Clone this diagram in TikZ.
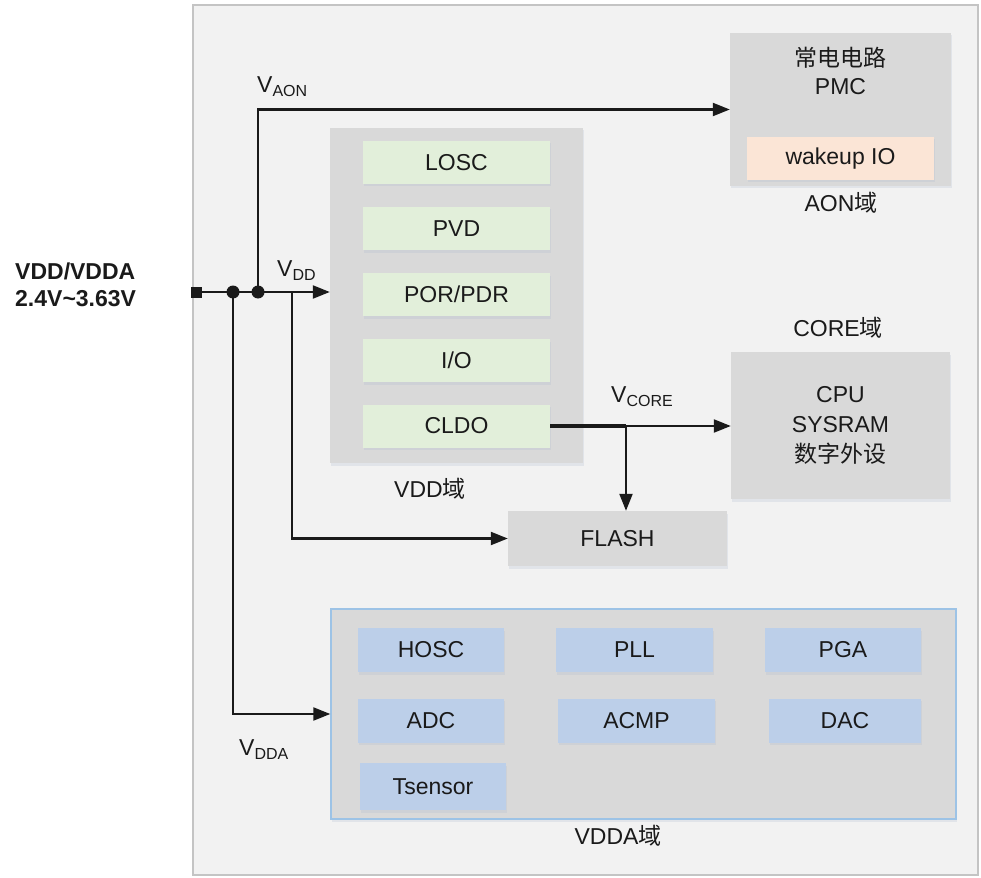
\documentclass[tikz,border=0pt]{standalone}
\usepackage{fontspec}
\setmainfont{Liberation Sans}
\newfontfamily\cjk{Noto Sans CJK SC}
\usetikzlibrary{arrows.meta,shadows}
\definecolor{ink}{HTML}{1A1A1A}
\definecolor{panel}{HTML}{F2F2F2}
\definecolor{panelrim}{HTML}{C4C4C4}
\definecolor{domain}{HTML}{D9D9D9}
\definecolor{leaf}{HTML}{E2EFDA}
\definecolor{peach}{HTML}{FBE5D6}
\definecolor{sky}{HTML}{BCCFE9}
\definecolor{skyrim}{HTML}{9DC3E6}
\definecolor{haze}{HTML}{A9B6CC}
\begin{document}
\begin{tikzpicture}[x=1pt,y=-1pt,
  txt/.style={font=\fontsize{23}{28}\selectfont, text=ink, inner sep=0pt},
  blk/.style={rectangle, inner sep=0pt, txt,
    drop shadow={shadow xshift=1pt, shadow yshift=-2.5pt, opacity=0.22, fill=haze}},
  greybox/.style={blk, fill=domain},
  greenbox/.style={blk, fill=leaf, minimum width=187pt, minimum height=43pt},
  bluebox/.style={blk, fill=sky, minimum height=44pt},
  wire/.style={line width=2.2pt, draw=ink},
  feed/.style={wire, -{Triangle[length=17pt,width=13pt]}},
  junction/.style={circle, fill=ink, minimum size=13pt, inner sep=0pt},
]
\useasboundingbox (0,0) rectangle (981,877);

% chip outline
\node[draw=panelrim, fill=panel, line width=1.2pt, minimum width=785pt, minimum height=870pt,
      inner sep=0pt] (chip) at (585.5,440) {};

% supply input
\node[txt, font=\fontsize{23}{27}\selectfont\bfseries, align=left, anchor=west]
  (supply) at (15,285) {VDD/VDDA\\2.4V\textasciitilde3.63V};

% always-on domain
\node[greybox, minimum width=221pt, minimum height=153pt] (aon) at (840.5,109.5) {};
\node[txt, align=center, font=\fontsize{23}{28}\selectfont] (aontxt) at (840.5,71) {{\cjk 常电电路}\\PMC};
\node[blk, fill=peach, minimum width=187pt, minimum height=43pt] (wake) at (840.5,158.5) {wakeup IO};
\node[txt] (aonlbl) at (841,203) {AON{\cjk 域}};

% VDD domain
\node[greybox, minimum width=253pt, minimum height=335pt] (vdd) at (456.5,295.5) {};
\node[greenbox] (losc) at (456.5,162.5) {LOSC};
\node[greenbox] (pvd)  at (456.5,228.5) {PVD};
\node[greenbox] (por)  at (456.5,294.5) {POR/PDR};
\node[greenbox] (io)   at (456.5,360.5) {I/O};
\node[greenbox] (cldo) at (456.5,426)   {CLDO};
\node[txt] (vddlbl) at (430,489) {VDD{\cjk 域}};

% core domain
\node[txt] (corelbl) at (838,328) {CORE{\cjk 域}};
\node[greybox, minimum width=219pt, minimum height=147pt, align=center,
      font=\fontsize{23}{30}\selectfont] (core) at (840.5,425.5) {CPU\\SYSRAM\\{\cjk 数字外设}};

% flash
\node[greybox, minimum width=219pt, minimum height=55pt] (flash) at (617.5,538.5) {FLASH};

% VDDA domain
\node[greybox, draw=skyrim, line width=1.4pt, minimum width=625pt, minimum height=210pt] (vdda) at (643.5,714) {};
\node[bluebox, minimum width=146pt] (hosc) at (431,650)   {HOSC};
\node[bluebox, minimum width=157pt] (pll)  at (634.5,650) {PLL};
\node[bluebox, minimum width=156pt] (pga)  at (843,650)   {PGA};
\node[bluebox, minimum width=146pt] (adc)  at (431,720.5) {ADC};
\node[bluebox, minimum width=157pt] (acmp) at (636.5,720.5) {ACMP};
\node[bluebox, minimum width=152pt] (dac)  at (845,720.5) {DAC};
\node[bluebox, minimum width=146pt, minimum height=47pt] (tsen) at (433,786.5) {Tsensor};
\node[txt] (vddalbl) at (618,836) {VDDA{\cjk 域}};

% supply distribution
\node[rectangle, fill=ink, minimum size=11pt, inner sep=0pt] (term) at (196,292) {};
\node[junction] (j1) at (233,292) {};
\node[junction] (j2) at (258,292) {};
\coordinate (tap) at (292,292);
\coordinate (split) at (626,426);

\draw[feed] (term.center) -- (term.center -| vdd.west);
\draw[feed] (j2.center) |- (aon.west);
\draw[feed] (j1.center) |- (vdda.west);
\draw[feed] (tap) |- (flash.west);
\draw[wire, line width=3.2pt] (cldo.east) -- (split);
\draw[feed] (split) -- (split -| core.west);
\draw[feed] (split) -- (split |- flash.north);

% rail names
\node[txt, anchor=base west] (vaon)  at (257,93)  {V\raisebox{-4pt}{\fontsize{16}{18}\selectfont AON}};
\node[txt, anchor=base west] (vdd0)  at (277,276) {V\raisebox{-4pt}{\fontsize{16}{18}\selectfont DD}};
\node[txt, anchor=base west] (vcore) at (611,402) {V\raisebox{-4pt}{\fontsize{16}{18}\selectfont CORE}};
\node[txt, anchor=base west] (vdda0) at (239,755) {V\raisebox{-4pt}{\fontsize{16}{18}\selectfont DDA}};
\end{tikzpicture}
\end{document}
